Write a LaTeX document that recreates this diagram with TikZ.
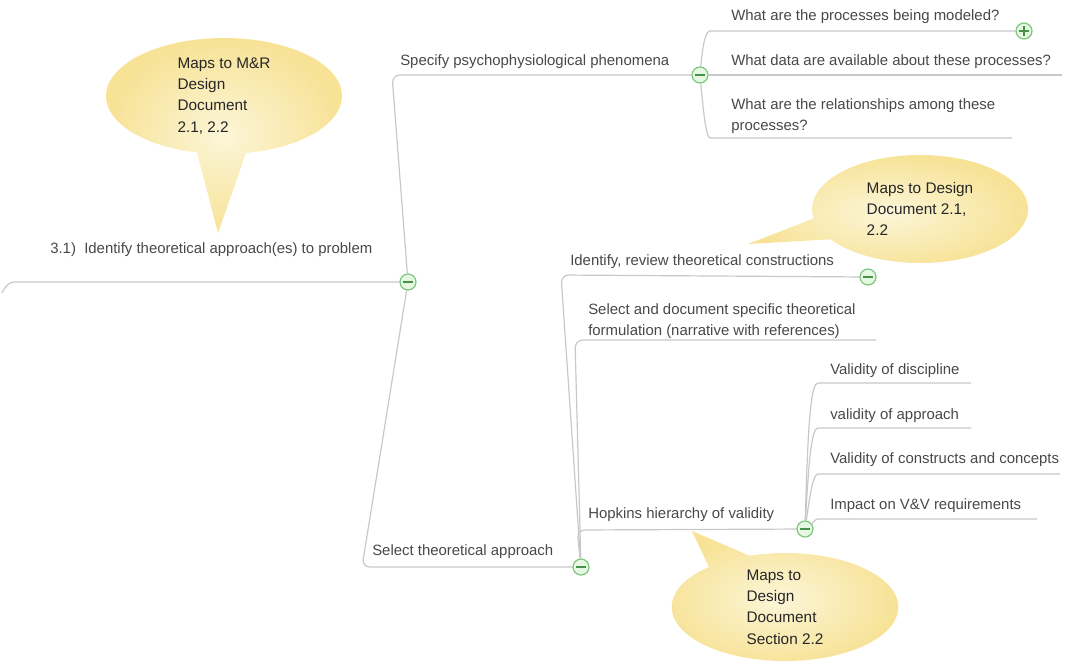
\documentclass[tikz,border=0pt]{standalone}
\usepackage{fontspec}
\setmainfont{Liberation Sans}
\usetikzlibrary{shapes.callouts}
\definecolor{linegray}{RGB}{200,200,200}
\definecolor{textgray}{RGB}{72,72,72}
\definecolor{btnline}{RGB}{125,198,125}
\definecolor{btnfill}{RGB}{230,247,226}
\definecolor{btnmark}{RGB}{70,145,70}
\definecolor{noteinner}{RGB}{252,246,216}
\definecolor{noteouter}{RGB}{247,226,150}
\pgfdeclarelayer{background}
\pgfsetlayers{background,main}
\tikzset{
  topic/.style={anchor=west, inner sep=0pt, align=left, text=textgray, font=\fontsize{11.2}{16}\selectfont},
  branch/.style={draw=linegray, line width=0.9pt, rounded corners=6pt},
  toggle/.style={circle, draw=btnline, fill=btnfill, line width=0.9pt, minimum size=12pt, inner sep=0pt,
    path picture={\draw[btnmark, line width=1.4pt] ([xshift=-3.5pt]path picture bounding box.center) -- ([xshift=3.5pt]path picture bounding box.center);}},
  expand/.style={circle, draw=btnline, fill=btnfill, line width=0.9pt, minimum size=12pt, inner sep=0pt,
    path picture={\draw[btnmark, line width=1.4pt] ([xshift=-3.5pt]path picture bounding box.center) -- ([xshift=3.5pt]path picture bounding box.center)
      ([yshift=-3.5pt]path picture bounding box.center) -- ([yshift=3.5pt]path picture bounding box.center);}},
  note/.style={ellipse callout, callout pointer arc=24, shade, inner color=noteinner, outer color=noteouter, draw=none},
  notetext/.style={align=left, inner sep=0pt, text=black!85, font=\fontsize{11.5}{16}\selectfont}
}
\begin{document}
\begin{tikzpicture}[x=0.75pt,y=-0.75pt]
    \useasboundingbox (0,0) rectangle (1075,662);
    % topics
    \node[topic] (root) at (50,250) {3.1)\ \ Identify theoretical approach(es) to problem};
    \node[topic] (spec) at (400,62) {Specify psychophysiological phenomena};
    \node[topic] (q1) at (731,17) {What are the processes being modeled?};
    \node[topic] (q2) at (731,62) {What data are available about these processes?};
    \node[topic] (q3) at (731,116) {What are the relationships among these\\processes?};
    \node[topic] (sel) at (372,552) {Select theoretical approach};
    \node[topic] (ident) at (570,262) {Identify, review theoretical constructions};
    \node[topic] (seldoc) at (588,321) {Select and document specific theoretical\\formulation (narrative with references)};
    \node[topic] (hop) at (588,515) {Hopkins hierarchy of validity};
    \node[topic] (v1) at (830,371) {Validity of discipline};
    \node[topic] (v2) at (830,416) {validity of approach};
    \node[topic] (v3) at (830,460) {Validity of constructs and concepts};
    \node[topic] (v4) at (830,506) {Impact on V\&V requirements};
    % toggles
    \node[toggle] (t0) at (408,282) {};
    \node[toggle] (t1) at (700,75) {};
    \node[toggle] (t2) at (581,567) {};
    \node[toggle] (t3) at (868,277) {};
    \node[toggle] (t4) at (805,529) {};
    \node[expand] (t5) at (1024,31) {};
    % free ends of the underlines
    \coordinate (root-l) at (2,293);
    \coordinate (q2-end) at (1062,75);
    \coordinate (q3-end) at (1012,138);
    \coordinate (sd-end) at (876,340);
    \coordinate (v1-end) at (971,383);
    \coordinate (v2-end) at (971,428);
    \coordinate (v3-end) at (1060,474);
    \coordinate (v4-end) at (1037,519);
    \begin{pgfonlayer}{background}
        \draw[branch] (t0) -- (22,282) .. controls (10,282) and (5,286) .. (root-l);
        \draw[branch] (t0) -- (392,75) -- (t1);
        \draw[branch] (t0) -- (362,567) -- (t2);
        \draw[branch] (t1) .. controls (703,42) and (706,31) .. (718,31) -- (t5);
        \draw[branch] (t1) -- (q2-end);
        \draw[branch] (t1) .. controls (703,108) and (706,138) .. (718,138) -- (q3-end);
        \draw[branch] (t2) -- (561,275) -- (t3);
        \draw[branch] (t2) -- (575,340) -- (sd-end);
        \draw[branch] (t2) -- (577,530) -- (t4);
        \draw[branch] (t4) .. controls (808,420) and (811,383) .. (826,383) -- (v1-end);
        \draw[branch] (t4) .. controls (809,455) and (812,428) .. (826,428) -- (v2-end);
        \draw[branch] (t4) .. controls (810,495) and (813,474) .. (826,474) -- (v3-end);
        \draw[branch] (t4) .. controls (812,524) and (815,519) .. (826,519) -- (v4-end);
    \end{pgfonlayer}
    % notes
    \node[note, minimum width=177pt, minimum height=87pt, callout absolute pointer={(218,233)}] (n1) at (224,96) {};
    \node[notetext] (n1txt) at (n1.center) {Maps to M\&R\\Design\\Document\\2.1, 2.2};
    \node[note, minimum width=162pt, minimum height=81pt, callout absolute pointer={(748,244)}] (n2) at (920,209) {};
    \node[notetext] (n2txt) at (n2.center) {Maps to Design\\Document 2.1,\\2.2};
    \node[note, minimum width=170pt, minimum height=81pt, callout absolute pointer={(692,531)}] (n3) at (785,607) {};
    \node[notetext] (n3txt) at (n3.center) {Maps to\\Design\\Document\\Section 2.2};
\end{tikzpicture}
\end{document}
